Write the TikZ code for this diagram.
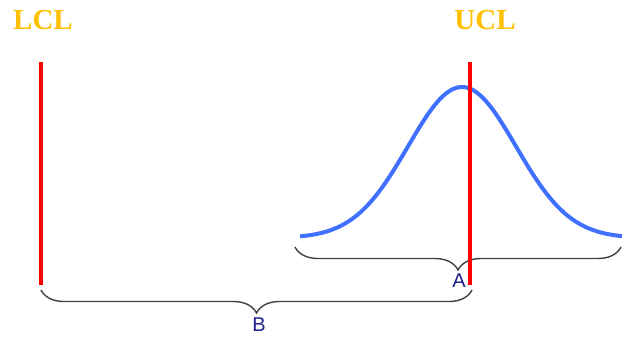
\documentclass[tikz,border=0pt]{standalone}
\usepackage{fontspec}
\setmainfont{Liberation Serif}
\setsansfont{Liberation Sans}
\usetikzlibrary{decorations.pathreplacing}
\definecolor{limitgold}{RGB}{255,192,0}
\definecolor{curveblue}{RGB}{64,112,255}
\definecolor{bracenavy}{RGB}{30,30,140}
\tikzset{
  limit/.style={draw=red,line width=4pt},
  limitlabel/.style={text=limitgold,font=\fontsize{29}{31}\selectfont\bfseries},
  spanbrace/.style={draw=black!75,line width=1.4pt,decorate,decoration={brace,mirror,amplitude=23pt}},
  spanlabel/.style={text=bracenavy,font=\sffamily\fontsize{20}{22}\selectfont}
}
\begin{document}
\begin{tikzpicture}[x=1pt,y=-1pt]
  \useasboundingbox (0,0) rectangle (624,338);
  % Limit labels
  \node[limitlabel] (lcl) at (43,20) {LCL};
  \node[limitlabel] (ucl) at (485,20) {UCL};
  % Normal curve
  \draw[curveblue,line width=4pt,domain=300:622,samples=120,smooth]
    plot (\x,{238-151*exp(-0.5*((\x-462)/54)^2)});
  % Lower limit
  \draw[limit] (41,62) -- (41,285);
  % Brace A
  \coordinate (a1) at (295,247);
  \coordinate (a2) at (621,247);
  \draw[spanbrace] (a1) -- (a2);
  \node[spanlabel] (labA) at (459,281) {A};
  % Upper limit
  \draw[limit] (470,62) -- (470,285);
  % Brace B
  \coordinate (b1) at (41,290);
  \coordinate (b2) at (472,290);
  \draw[spanbrace] (b1) -- (b2);
  \node[spanlabel] (labB) at (259,325) {B};
\end{tikzpicture}
\end{document}
